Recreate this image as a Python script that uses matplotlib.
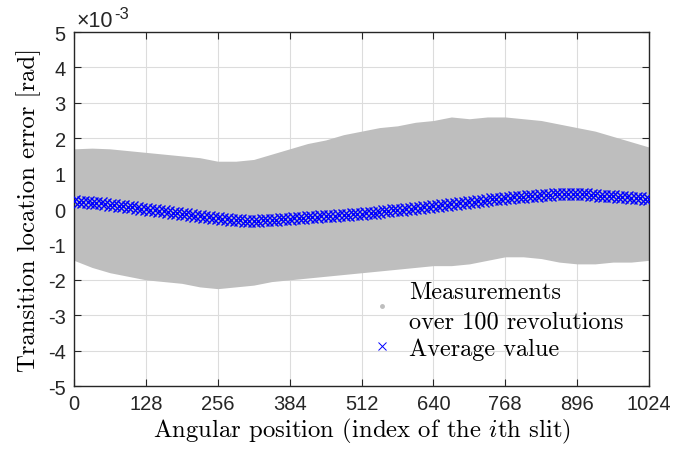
import matplotlib
matplotlib.use("Agg")
import matplotlib.pyplot as plt
from matplotlib.lines import Line2D

plt.rcParams.update({
    "mathtext.fontset": "cm",
    "axes.unicode_minus": False,
})

# values in units of 1e-3 rad
env_slits = list(range(0, 1025, 32))
upper_env = [1.70, 1.72, 1.70, 1.65, 1.60, 1.55, 1.50, 1.45, 1.35, 1.35, 1.40,
             1.55, 1.70, 1.85, 1.95, 2.10, 2.20, 2.30, 2.35, 2.45, 2.50, 2.60,
             2.55, 2.60, 2.60, 2.55, 2.50, 2.40, 2.30, 2.20, 2.05, 1.90, 1.75]
lower_env = [-1.45, -1.65, -1.80, -1.90, -2.00, -2.05, -2.10, -2.20, -2.25,
             -2.20, -2.15, -2.05, -2.00, -1.95, -1.90, -1.85, -1.80, -1.75,
             -1.70, -1.65, -1.60, -1.60, -1.55, -1.45, -1.35, -1.35, -1.40,
             -1.50, -1.55, -1.55, -1.50, -1.50, -1.45]

avg_slits = list(range(0, 1025, 8))
avg_value = [
    0.22, 0.21, 0.20, 0.19, 0.18, 0.17, 0.16, 0.14,
    0.12, 0.11, 0.09, 0.08, 0.06, 0.05, 0.03, 0.01,
    0.00, -0.02, -0.03, -0.05, -0.07, -0.08, -0.10, -0.12,
    -0.14, -0.15, -0.17, -0.19, -0.20, -0.22, -0.23, -0.25,
    -0.26, -0.28, -0.29, -0.30, -0.31, -0.32, -0.33, -0.33,
    -0.33, -0.33, -0.32, -0.32, -0.31, -0.30, -0.29, -0.28,
    -0.27, -0.26, -0.25, -0.24, -0.23, -0.22, -0.22, -0.21,
    -0.20, -0.20, -0.19, -0.18, -0.17, -0.16, -0.15, -0.14,
    -0.13, -0.12, -0.11, -0.10, -0.08, -0.07, -0.06, -0.04,
    -0.03, -0.02, -0.01, 0.01, 0.02, 0.04, 0.05, 0.06,
    0.08, 0.09, 0.11, 0.12, 0.14, 0.15, 0.16, 0.18,
    0.19, 0.21, 0.22, 0.24, 0.25, 0.27, 0.28, 0.29,
    0.30, 0.32, 0.33, 0.34, 0.35, 0.36, 0.37, 0.38,
    0.39, 0.40, 0.40, 0.41, 0.42, 0.42, 0.42, 0.42,
    0.42, 0.41, 0.41, 0.40, 0.39, 0.38, 0.37, 0.37,
    0.36, 0.35, 0.34, 0.33, 0.32, 0.31, 0.30, 0.29,
    0.27,
]

x_ticks = list(range(0, 1025, 128))
y_ticks = list(range(-5, 6))

gray = "#bebebe"
axcol = "#262626"
tick_font = "Liberation Sans"

fig = plt.figure(figsize=(6.99, 4.56), dpi=100)
ax = fig.add_axes([0.1059, 0.1513, 0.8226, 0.7763])

ax.fill_between(env_slits, lower_env, upper_env, color=gray, lw=0, zorder=2)
ax.plot(avg_slits, avg_value, ls="", marker="x", color="#0000ff",
        ms=8.5, mew=1.0, zorder=3)

ax.set_xlim(0, 1024)
ax.set_ylim(-5, 5)
ax.set_xticks(x_ticks)
ax.set_yticks(y_ticks)
ax.set_axisbelow(True)
ax.grid(True, color="#dcdcdc", lw=0.8)
ax.tick_params(direction="in", length=5, width=0.8, color=axcol,
               top=True, right=True, labelsize=14.5, labelcolor=axcol, pad=6)
for lab in ax.get_xticklabels() + ax.get_yticklabels():
    lab.set_fontfamily(tick_font)
for sp in ax.spines.values():
    sp.set_color(axcol)
    sp.set_linewidth(1.0)

ax.set_xlabel("Angular position (index of the $i$th slit)",
              fontfamily="cmr10", fontsize=17.8, labelpad=2)
ax.set_ylabel("Transition location error [rad]",
              fontfamily="cmr10", fontsize=17.8, labelpad=5)

ax.text(0.005, 1.003, "\u00d710", transform=ax.transAxes, fontsize=15.5,
        fontfamily=tick_font, color=axcol, ha="left", va="bottom")
ax.text(0.07, 1.03, "-3", transform=ax.transAxes, fontsize=12,
        fontfamily=tick_font, color=axcol, ha="left", va="bottom")

handles = [
    Line2D([], [], ls="", marker="o", ms=2.5, color=gray),
    Line2D([], [], ls="", marker="x", ms=6, mew=0.7, color="#0000ff"),
]
labels = ["Measurements\nover 100 revolutions", "Average value"]
leg = ax.legend(handles, labels, loc="upper left",
                bbox_to_anchor=(0.481, 0.36), frameon=False,
                prop={"family": "cmr10", "size": 17.5},
                handlelength=0.8, handletextpad=0.7, labelspacing=0.2)
for t in leg.get_texts():
    t.set_linespacing(1.45)

fig.savefig("out.png", dpi=100)
